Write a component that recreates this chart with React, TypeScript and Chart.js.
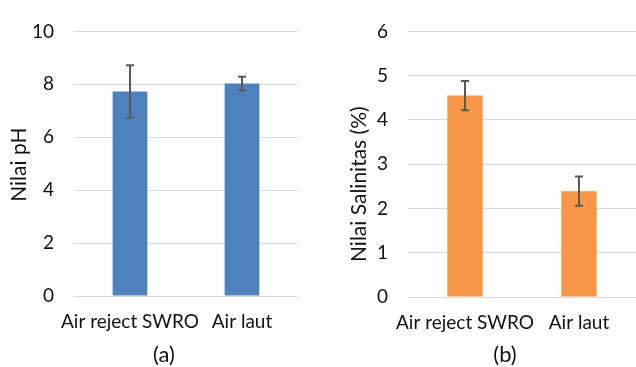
import { useEffect, useRef } from "react";
import { Chart, registerables } from "chart.js";

Chart.register(...registerables);

const categories = ["Air reject SWRO", "Air laut"];
const phValues = [7.73, 8.03];
const phErrors = [0.99, 0.26];
const salinityValues = [4.55, 2.39];
const salinityErrors = [0.33, 0.33];
const phAxis = { min: 0, max: 10, step: 2, title: "Nilai pH" };
const salinityAxis = { min: 0, max: 6, step: 1, title: "Nilai Salinitas (%)" };

const FONT = "Lato, 'Open Sans', sans-serif";
const TEXT = "#111111";

const errorBarPlugin = {
  id: "errorBars",
  afterDatasetsDraw(chart: any, _args: any, opts: any) {
    const { ctx } = chart;
    const yScale = chart.scales.y;
    const errors: number[] = opts.errors || [];
    chart.data.datasets.forEach((ds: any, i: number) => {
      const meta = chart.getDatasetMeta(i);
      meta.data.forEach((bar: any, j: number) => {
        const v = ds.data[j];
        const e = errors[j];
        if (e == null) return;
        const yTop = yScale.getPixelForValue(v + e);
        const yBot = yScale.getPixelForValue(v - e);
        const x = bar.x;
        ctx.save();
        ctx.strokeStyle = "#595959";
        ctx.lineWidth = 2;
        ctx.beginPath();
        ctx.moveTo(x, yTop);
        ctx.lineTo(x, yBot);
        ctx.moveTo(x - 4, yTop);
        ctx.lineTo(x + 4, yTop);
        ctx.moveTo(x - 4, yBot);
        ctx.lineTo(x + 4, yBot);
        ctx.stroke();
        ctx.restore();
      });
    });
  },
};

// Rotated y-axis title, centred on the y scale plus an optional vertical shift.
const yTitlePlugin = {
  id: "yTitle",
  afterDraw(chart: any, _args: any, opts: any) {
    if (!opts.text) return;
    const { ctx } = chart;
    const yScale = chart.scales.y;
    const cy = (yScale.top + yScale.bottom) / 2 + (opts.dy || 0);
    ctx.save();
    ctx.translate(opts.x, cy);
    ctx.rotate(-Math.PI / 2);
    ctx.font = `${opts.size}px ${FONT}`;
    ctx.fillStyle = TEXT;
    ctx.textAlign = "center";
    ctx.textBaseline = "middle";
    ctx.fillText(opts.text, 0, 0);
    ctx.restore();
  },
};

type PanelProps = {
  values: number[];
  errors: number[];
  color: string;
  axis: { min: number; max: number; step: number; title: string };
  width: number;
  height: number;
  yAxisWidth: number;
  xAxisHeight: number;
  padTop: number;
  padRight: number;
  titleX: number;
  titleDy: number;
};

function Panel(p: PanelProps) {
  const ref = useRef<HTMLCanvasElement | null>(null);
  useEffect(() => {
    if (!ref.current) return;
    const chart = new Chart(ref.current, {
      type: "bar",
      data: {
        labels: categories,
        datasets: [
          {
            data: p.values,
            backgroundColor: p.color,
            borderWidth: 0,
            categoryPercentage: 1,
            barPercentage: 0.31,
          },
        ],
      },
      options: {
        animation: false,
        responsive: false,
        maintainAspectRatio: false,
        layout: { padding: { top: p.padTop, right: p.padRight, left: 0, bottom: 0 } },
        plugins: {
          legend: { display: false },
          tooltip: { enabled: false },
          errorBars: { errors: p.errors },
          yTitle: { text: p.axis.title, x: p.titleX, dy: p.titleDy, size: 21 },
        } as any,
        scales: {
          x: {
            grid: { display: false, drawTicks: false },
            border: { display: false },
            ticks: { color: TEXT, font: { family: FONT, size: 19 }, padding: 14, maxRotation: 0, autoSkip: false },
            afterFit: (s: any) => {
              s.height = p.xAxisHeight;
            },
          },
          y: {
            min: p.axis.min,
            max: p.axis.max,
            grid: { color: "#d9d9d9", lineWidth: 1, drawTicks: false },
            border: { display: false },
            ticks: { stepSize: p.axis.step, color: TEXT, font: { family: FONT, size: 19 }, padding: 20 },
            afterFit: (s: any) => {
              s.width = p.yAxisWidth;
            },
          },
        },
      },
      plugins: [errorBarPlugin, yTitlePlugin],
    });
    return () => chart.destroy();
  }, []);
  return <canvas ref={ref} width={p.width} height={p.height} style={{ width: p.width, height: p.height, display: "block" }} />;
}

export default function App() {
  const caption: React.CSSProperties = {
    position: "absolute",
    top: 339,
    width: 60,
    marginLeft: -30,
    textAlign: "center",
    fontFamily: FONT,
    fontSize: 22,
    color: TEXT,
    lineHeight: "30px",
  };
  return (
    <div style={{ position: "fixed", left: 0, top: 0, width: 636, height: 367, background: "#fff", overflow: "hidden" }}>
      <div style={{ position: "absolute", left: 0, top: 0 }}>
        <Panel
          values={phValues}
          errors={phErrors}
          color="#4f81bd"
          axis={phAxis}
          width={320}
          height={367}
          yAxisWidth={74}
          xAxisHeight={71}
          padTop={22}
          padRight={22}
          titleX={19}
          titleDy={1}
        />
      </div>
      <div style={{ position: "absolute", left: 320, top: 0 }}>
        <Panel
          values={salinityValues}
          errors={salinityErrors}
          color="#f79646"
          axis={salinityAxis}
          width={316}
          height={367}
          yAxisWidth={88}
          xAxisHeight={70}
          padTop={29}
          padRight={0}
          titleX={39}
          titleDy={20}
        />
      </div>
      <div style={{ ...caption, left: 164 }}>(a)</div>
      <div style={{ ...caption, left: 505 }}>(b)</div>
    </div>
  );
}
